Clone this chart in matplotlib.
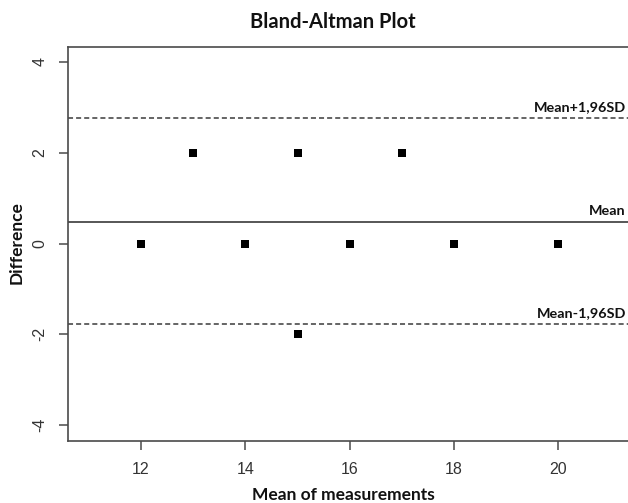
import matplotlib
matplotlib.use("Agg")
import matplotlib.pyplot as plt

plt.rcParams["font.family"] = ["Liberation Sans", "DejaVu Sans"]

# Data
mean_meas = [12, 13, 14, 15, 15, 16, 17, 18, 20]
difference = [0, 2, 0, 2, -2, 0, 2, 0, 0]
mean_diff = 0.48
upper_loa = 2.76
lower_loa = -1.78
x_ticks = [12, 14, 16, 18, 20]
y_ticks = [-4, -2, 0, 2, 4]

W, H = 628, 503
fig = plt.figure(figsize=(W / 100, H / 100), dpi=100)
ax_left, ax_right, ax_top, ax_bottom = 67.5, 632.0, 47.3, 440.7
ax = fig.add_axes([ax_left / W, (H - ax_bottom) / H,
                   (ax_right - ax_left) / W, (ax_bottom - ax_top) / H])

line_col = "#3a3a3a"
ax.scatter(mean_meas, difference, marker="s", s=32, color="black", zorder=3, linewidths=0)
ax.axhline(mean_diff, color=line_col, lw=1.2)
ax.axhline(upper_loa, color=line_col, lw=1.1, ls=(0, (3.3, 2.0)))
ax.axhline(lower_loa, color=line_col, lw=1.1, ls=(0, (3.3, 2.0)))

ax.set_xlim(10.59, 21.41)
ax.set_ylim(-4.34, 4.32)
ax.set_xticks(x_ticks)
ax.set_yticks(y_ticks)
ax.set_yticklabels([str(v) for v in y_ticks], rotation=90, va="center")

for sp in ["left", "bottom", "top", "right"]:
    ax.spines[sp].set_color("#4a4a4a")
    ax.spines[sp].set_linewidth(1.2)

ax.tick_params(axis="both", direction="out", length=6.5, width=1.1, color="#4a4a4a",
               labelcolor="#333333", labelsize=11.5)
ax.tick_params(axis="x", pad=9)
ax.tick_params(axis="y", pad=8)

lab_font = dict(family="Lato", weight="bold", size=10.4, color="#111111")
fig.canvas.draw()
inv = ax.transData.inverted()
x_txt = inv.transform(fig.transFigure.transform((626 / W, 0)))[0]
ax.annotate("Mean+1,96SD", (x_txt, upper_loa), xytext=(0, 5), textcoords="offset points",
            ha="right", va="baseline", **lab_font)
ax.annotate("Mean", (x_txt, mean_diff), xytext=(0, 4.5), textcoords="offset points",
            ha="right", va="baseline", **lab_font)
ax.annotate("Mean-1,96SD", (x_txt, lower_loa), xytext=(0, 5), textcoords="offset points",
            ha="right", va="baseline", **lab_font)

fig.text(333 / W, 1 - 22.5 / H, "Bland-Altman Plot", ha="center", va="center",
         family="Lato", weight="bold", size=14.5, color="#111111")
fig.text(343.7 / W, 1 - 495 / H, "Mean of measurements", ha="center", va="center",
         family="Lato", weight="bold", size=12.5, color="#111111")
fig.text(17 / W, 1 - 243 / H, "Difference", ha="center", va="center", rotation=90,
         family="Lato", weight="bold", size=12.5, color="#111111")

fig.savefig("out.png", dpi=100)
